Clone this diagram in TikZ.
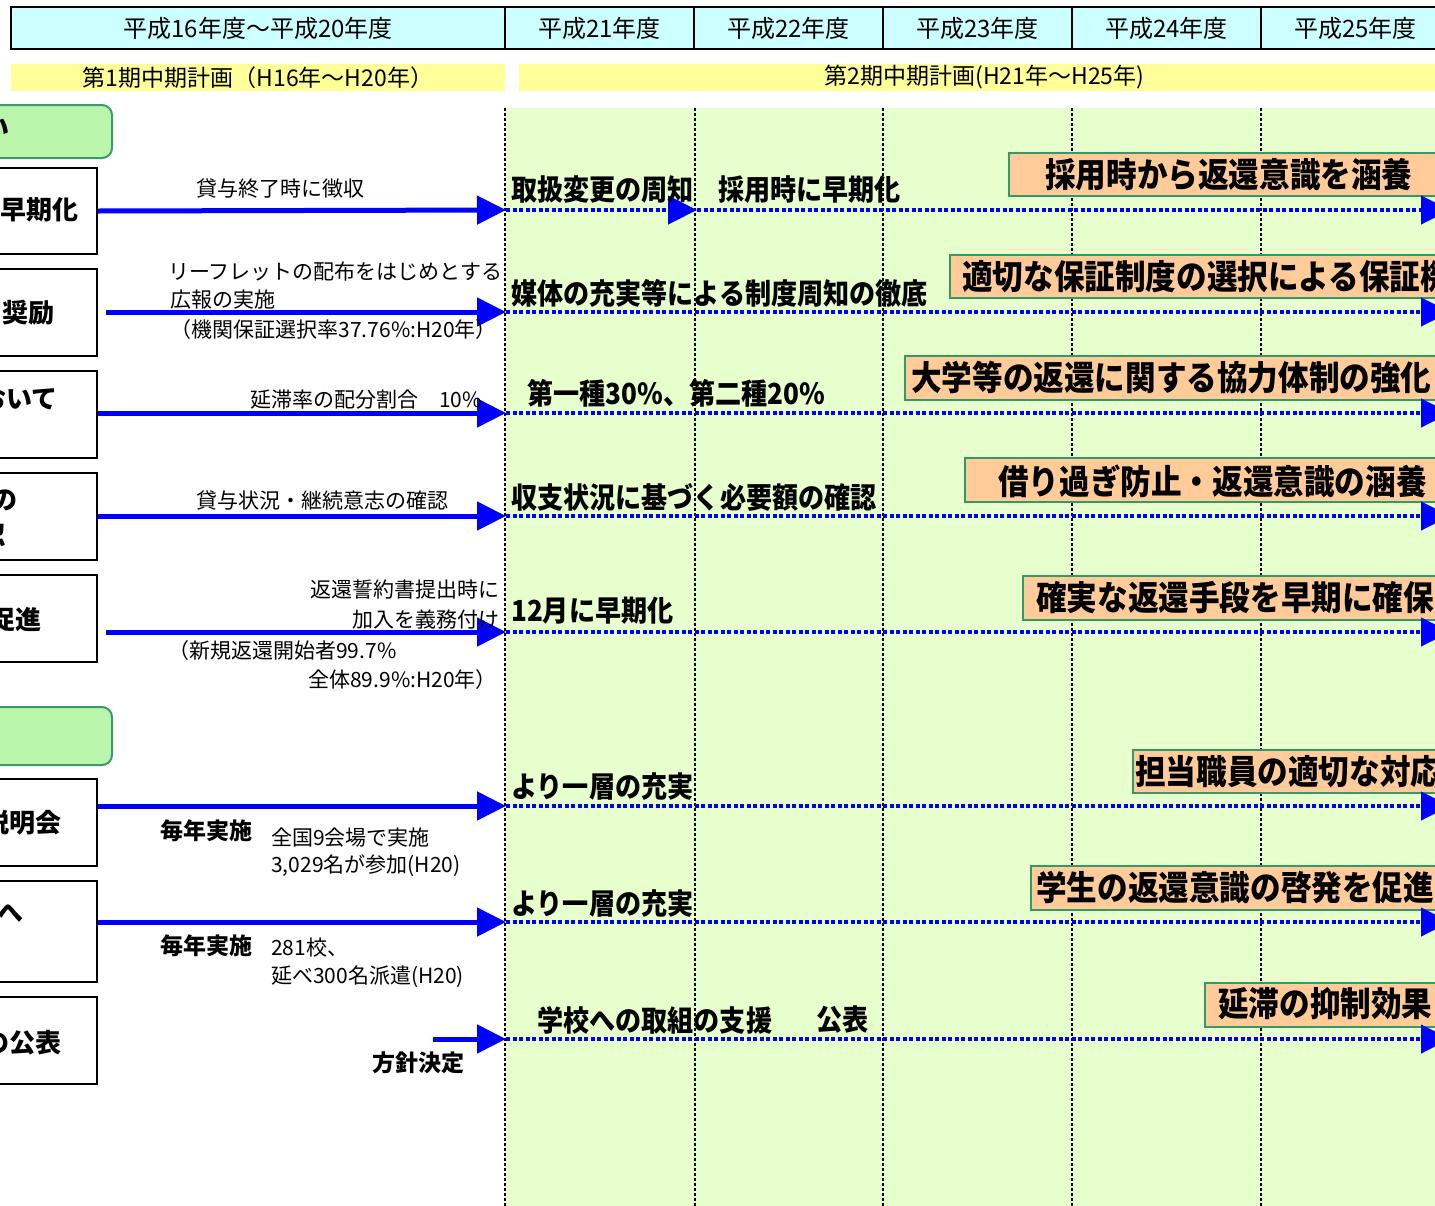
\documentclass[tikz,border=0pt]{standalone}
\usepackage{fontspec}
\usetikzlibrary{arrows.meta}
\newfontfamily\jp{Noto Sans CJK JP}
\newfontfamily\jpc{Noto Sans CJK JP}[FakeStretch=0.9]
\definecolor{hcyan}{HTML}{CCFFFF}
\definecolor{pyellow}{HTML}{FFFF99}
\definecolor{bggreen}{HTML}{E6FFCC}
\definecolor{gheadfill}{HTML}{B9F5AA}
\definecolor{gheadline}{HTML}{3C9A6A}
\definecolor{ofill}{HTML}{FFCC99}
\definecolor{oline}{HTML}{339966}
\definecolor{arrowblue}{HTML}{0000FF}
\begin{document}
\begin{tikzpicture}[x=1pt,y=-1pt,
  hcell/.style={draw=black, line width=2pt, fill=hcyan, minimum height=42pt, inner sep=0pt, font=\jp\fontsize{24}{26}\selectfont},
  pbar/.style={fill=pyellow, minimum height=27pt, inner sep=0pt, font=\jp\fontsize{23}{26}\selectfont},
  ghead/.style={draw=gheadline, line width=2pt, fill=gheadfill, rounded corners=10pt, inner sep=0pt},
  lbox/.style={draw=black, line width=2pt, fill=white, inner sep=0pt},
  ltext/.style={inner sep=0pt, anchor=east, font=\jp\bfseries\fontsize{26}{28}\selectfont},
  mlabel/.style={inner sep=0pt, font=\jp\fontsize{21}{24}\selectfont},
  blabel/.style={inner sep=0pt, anchor=west, font=\jp\bfseries\fontsize{23}{26}\selectfont},
  dlabel/.style={inner sep=0pt, anchor=west, font=\jpc\bfseries\fontsize{29}{31}\selectfont},
  obox/.style={draw=oline, line width=2pt, fill=ofill, inner sep=0pt, anchor=north west},
  otext/.style={inner sep=0pt, anchor=west, font=\jpc\bfseries\fontsize{34}{36}\selectfont},
  vdot/.style={draw=black, line width=2.5pt, dash pattern=on 2.5pt off 2.5pt},
  solidarrow/.style={draw=arrowblue, line width=5pt, -{Triangle[length=29pt,width=28pt]}},
  dotarrow/.style={draw=arrowblue, line width=4.5pt, dash pattern=on 4pt off 2.5pt, -{Triangle[length=29pt,width=28pt]}}
]
\useasboundingbox (0,0) rectangle (1435,1205);
\clip (0,0) rectangle (1435,1205);
\fill[white] (0,0) rectangle (1435,1205);
% green background of the second plan
\fill[bggreen] (505,108) rectangle (1450,1210);
\foreach \x in {505,695,883,1072,1261} \draw[vdot] (\x,108) -- (\x,1210);

% header row
\node[hcell, minimum width=494pt] (h0) at (258,28) {平成16年度～平成20年度};
\node[hcell, minimum width=189pt] (h1) at (599.5,28) {平成21年度};
\node[hcell, minimum width=189pt] (h2) at (788.5,28) {平成22年度};
\node[hcell, minimum width=189pt] (h3) at (977.5,28) {平成23年度};
\node[hcell, minimum width=189pt] (h4) at (1166.5,28) {平成24年度};
\node[hcell, minimum width=189pt] (h5) at (1355.5,28) {平成25年度};

% plan bars
\node[pbar, minimum width=494pt] (p1) at (258,77.5) {第1期中期計画（H16年～H20年）};
\node[pbar, minimum width=931pt] (p2) at (984.5,77.5) {第2期中期計画(H21年～H25年)};

% category headers
\node[ghead, anchor=north east, minimum width=140pt, minimum height=53pt] (g1) at (113,104) {};
\node[ltext] (g1t) at (10,128) {い};
\node[ghead, anchor=north east, minimum width=140pt, minimum height=58pt] (g2) at (113,706) {};

% left boxes
\node[lbox, anchor=north east, minimum width=110pt, minimum height=86pt] (b1) at (98,167) {};
\node[lbox, anchor=north east, minimum width=110pt, minimum height=87pt] (b2) at (98,268) {};
\node[lbox, anchor=north east, minimum width=110pt, minimum height=87pt] (b3) at (98,370) {};
\node[lbox, anchor=north east, minimum width=110pt, minimum height=87pt] (b4) at (98,472) {};
\node[lbox, anchor=north east, minimum width=110pt, minimum height=87pt] (b5) at (98,574) {};
\node[lbox, anchor=north east, minimum width=110pt, minimum height=87pt] (b6) at (98,778) {};
\node[lbox, anchor=north east, minimum width=110pt, minimum height=101pt] (b7) at (98,880) {};
\node[lbox, anchor=north east, minimum width=110pt, minimum height=87pt] (b8) at (98,996) {};

\node[ltext] (b1t) at (79,210) {早期化};
\node[ltext] (b2t) at (55,313) {奨励};
\node[ltext] (b3t) at (58,399) {おいて};
\node[ltext] (b4t) at (18,500) {の};
\node[ltext] (b4u) at (6,536) {認};
\node[ltext] (b5t) at (42,620) {促進};
\node[ltext] (b6t) at (62,823) {説明会};
\node[ltext] (b7t) at (24,913) {へ};
\node[ltext] (b8t) at (62,1043) {の公表};

% coordinates
\coordinate (s2) at (106,312);
\coordinate (s5) at (106,632);
\coordinate (s6) at (98,806);
\coordinate (s7) at (98,922);
\coordinate (s8) at (433,1039);
\coordinate (t1) at (506,210);
\coordinate (t2) at (506,312);
\coordinate (t3) at (506,413);
\coordinate (t4) at (506,516);
\coordinate (t5) at (506,632);
\coordinate (t6) at (506,806);
\coordinate (t7) at (506,922);
\coordinate (t8) at (506,1039);
\coordinate (m1) at (697,210);
\coordinate (e1) at (1450,210);
\coordinate (e2) at (1450,312);
\coordinate (e3) at (1450,413);
\coordinate (e4) at (1450,516);
\coordinate (e5) at (1450,632);
\coordinate (e6) at (1450,806);
\coordinate (e7) at (1450,922);
\coordinate (e8) at (1450,1039);

% orange goal boxes
\node[obox, minimum width=480pt, minimum height=43pt] (o1) at (1008,152) {};
\node[obox, minimum width=540pt, minimum height=43pt] (o2) at (949,254) {};
\node[obox, minimum width=580pt, minimum height=44pt] (o3) at (904,355) {};
\node[obox, minimum width=520pt, minimum height=44pt] (o4) at (964,457) {};
\node[obox, minimum width=460pt, minimum height=44pt] (o5) at (1022,575) {};
\node[obox, minimum width=350pt, minimum height=43pt] (o6) at (1132,749) {};
\node[obox, minimum width=450pt, minimum height=44pt] (o7) at (1030,865) {};
\node[obox, minimum width=280pt, minimum height=44pt] (o8) at (1204,982) {};
\node[otext] (o1t) at (1045,175) {採用時から返還意識を涵養};
\node[otext] (o2t) at (962,277) {適切な保証制度の選択による保証機能};
\node[otext] (o3t) at (911,378) {大学等の返還に関する協力体制の強化};
\node[otext] (o4t) at (998,481) {借り過ぎ防止・返還意識の涵養};
\node[otext] (o5t) at (1036,598) {確実な返還手段を早期に確保};
\node[otext] (o6t) at (1135,772) {担当職員の適切な対応};
\node[otext] (o7t) at (1036,888) {学生の返還意識の啓発を促進};
\node[otext] (o8t) at (1218,1004) {延滞の抑制効果};

% dotted arrows (second plan)
\draw[dotarrow] (t1) -- (m1);
\draw[dotarrow] (m1) -- (e1);
\draw[dotarrow] (t2) -- (e2);
\draw[dotarrow] (t3) -- (e3);
\draw[dotarrow] (t4) -- (e4);
\draw[dotarrow] (t5) -- (e5);
\draw[dotarrow] (t6) -- (e6);
\draw[dotarrow] (t7) -- (e7);
\draw[dotarrow] (t8) -- (e8);

% solid arrows (first plan)
\draw[solidarrow] (b1.east) -- (t1);
\draw[solidarrow] (s2) -- (t2);
\draw[solidarrow] (b3.east |- t3) -- (t3);
\draw[solidarrow] (b4.east |- t4) -- (t4);
\draw[solidarrow] (s5) -- (t5);
\draw[solidarrow] (s6) -- (t6);
\draw[solidarrow] (s7) -- (t7);
\draw[solidarrow] (s8) -- (t8);

% first plan labels
\node[mlabel] (l1) at (280,189) {貸与終了時に徴収};
\node[mlabel, anchor=west] (l2a) at (168,272) {リーフレットの配布をはじめとする};
\node[mlabel, anchor=west] (l2b) at (170,300) {広報の実施};
\node[mlabel, anchor=east] (l2c) at (497,330) {（機関保証選択率37.76\%:H20年）};
\node[mlabel, anchor=east] (l3) at (482,400) {延滞率の配分割合　10\%};
\node[mlabel] (l4) at (322,501) {貸与状況・継続意志の確認};
\node[mlabel, anchor=east] (l5a) at (500,590) {返還誓約書提出時に};
\node[mlabel, anchor=east] (l5b) at (500,620) {加入を義務付け};
\node[mlabel, anchor=west] (l5c) at (168,651) {（新規返還開始者99.7\%};
\node[mlabel, anchor=east] (l5d) at (497,680) {全体89.9\%:H20年）};
\node[blabel] (l6a) at (160,831) {毎年実施};
\node[mlabel, anchor=west] (l6b) at (271,838) {全国9会場で実施};
\node[mlabel, anchor=west] (l6c) at (271,866) {3,029名が参加(H20)};
\node[blabel] (l7a) at (160,946) {毎年実施};
\node[mlabel, anchor=west] (l7b) at (271,948) {281校、};
\node[mlabel, anchor=west] (l7c) at (271,977) {延べ300名派遣(H20)};
\node[blabel] (l8) at (372,1063) {方針決定};

% second plan labels
\node[dlabel] (d1a) at (511,190) {取扱変更の周知};
\node[dlabel] (d1b) at (718,190) {採用時に早期化};
\node[dlabel] (d2) at (511,293) {媒体の充実等による制度周知の徹底};
\node[dlabel] (d3) at (527,393) {第一種30\%、第二種20\%};
\node[dlabel] (d4) at (511,497) {収支状況に基づく必要額の確認};
\node[dlabel] (d5) at (511,611) {12月に早期化};
\node[dlabel] (d6) at (511,787) {より一層の充実};
\node[dlabel] (d7) at (511,904) {より一層の充実};
\node[dlabel] (d8a) at (537,1020) {学校への取組の支援};
\node[dlabel] (d8b) at (816,1020) {公表};
\end{tikzpicture}
\end{document}
